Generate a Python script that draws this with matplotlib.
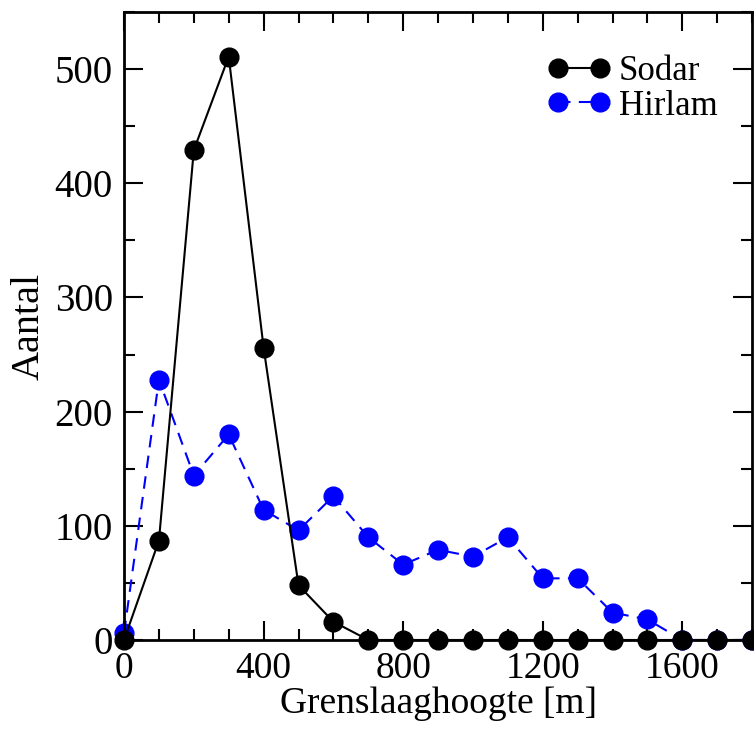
import numpy as np
import matplotlib.pyplot as plt
from matplotlib.ticker import MultipleLocator

# data
hoogte = [0, 100, 200, 300, 400, 500, 600, 700, 800, 900, 1000,
          1100, 1200, 1300, 1400, 1500, 1600, 1700, 1800]
sodar = [0, 87, 429, 511, 256, 48, 16, 0, 0, 0, 0,
         0, 0, 0, 0, 0, 0, 0, 0]
hirlam = [6, 228, 144, 180, 114, 96, 126, 90, 66, 79, 73,
          90, 54, 54, 24, 18, 0, 0, 0]

plt.rcParams['font.family'] = ['Liberation Serif', 'DejaVu Serif']

fig = plt.figure(figsize=(7.54, 7.29), dpi=100)
ax = fig.add_axes([0.1645, 0.1221, 0.833, 0.8614])

ax.plot(hoogte, sodar, '-o', color='black', lw=1.5, ms=13.5, label='Sodar', clip_on=False, zorder=3)
ax.plot(hoogte, hirlam, '--o', color='blue', lw=1.5, ms=13.5, label='Hirlam', clip_on=False, dashes=(6, 4))

ax.set_xlim(0, 1800)
ax.set_ylim(0, 550)
ax.xaxis.set_major_locator(MultipleLocator(400))
ax.xaxis.set_minor_locator(MultipleLocator(100))
ax.yaxis.set_major_locator(MultipleLocator(100))
ax.yaxis.set_minor_locator(MultipleLocator(50))
ax.tick_params(which='both', direction='in', top=True, right=True, labelsize=28, width=1.5)
ax.tick_params(which='major', length=14)
ax.tick_params(axis='x', which='major', pad=8, labelsize=27)
ax.tick_params(axis='y', which='major', pad=8)
ax.tick_params(which='minor', length=8)
for s in ax.spines.values():
    s.set_linewidth(2)

ax.set_xlabel('Grenslaaghoogte [m]', fontsize=27, labelpad=1)
ax.set_ylabel('Aantal', fontsize=29, labelpad=5)

ax.legend(loc='upper right', frameon=False, fontsize=25, numpoints=2, handlelength=1.8,
          handletextpad=0.25, labelspacing=0.05, borderaxespad=0.0,
          bbox_to_anchor=(0.967, 0.954))

fig.savefig('out.png', dpi=100)
